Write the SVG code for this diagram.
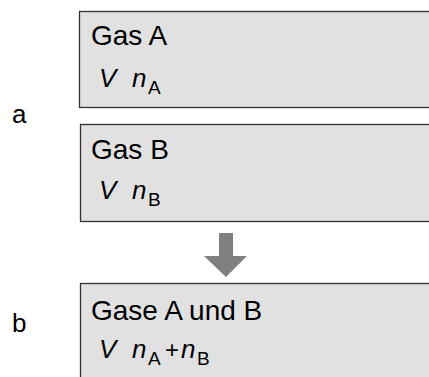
<svg xmlns="http://www.w3.org/2000/svg" width="429" height="377" viewBox="0 0 429 377">
<style>
.box{fill:#e1e1e1;stroke:#333;stroke-width:1.3}
.t{font-family:"Liberation Sans",Arial,sans-serif;fill:#000}
.h{font-size:28px}
.m{font-size:26px;font-style:italic}
.s{font-size:19px;font-style:normal}
.p{font-size:24px;font-style:normal}
.lab{font-family:"Liberation Sans",Arial,sans-serif;font-size:26px;fill:#000}
</style>
<rect width="429" height="377" fill="#fff"/>
<g id="label-a"><text class="lab" x="12" y="123">a</text></g>
<g id="label-b"><text class="lab" x="12" y="332">b</text></g>
<g id="gasA">
<rect class="box" x="79.5" y="11.5" width="370" height="96"/>
<text class="t h" x="91" y="45">Gas A</text>
<text class="t m" x="99" y="87">V</text>
<text class="t m" x="132" y="87">n</text>
<text class="t s" x="148" y="94">A</text>
</g>
<g id="gasB">
<rect class="box" x="80.5" y="124.5" width="370" height="97"/>
<text class="t h" x="91" y="159">Gas B</text>
<text class="t m" x="99" y="199">V</text>
<text class="t m" x="132" y="199">n</text>
<text class="t s" x="148" y="206">B</text>
</g>
<g id="connectors">
<path d="M219 233H233V256H247L226 277L204 256H219Z" fill="#808080"/>
</g>
<g id="gasAB">
<rect class="box" x="80.5" y="283.5" width="370" height="110"/>
<text class="t h" x="91" y="320">Gase A und B</text>
<text class="t m" x="99" y="358">V</text>
<text class="t m" x="132" y="358">n</text>
<text class="t s" x="148" y="365">A</text>
<text class="t p" x="165" y="358">+</text>
<text class="t m" x="181" y="358">n</text>
<text class="t s" x="197" y="365">B</text>
</g>
</svg>
